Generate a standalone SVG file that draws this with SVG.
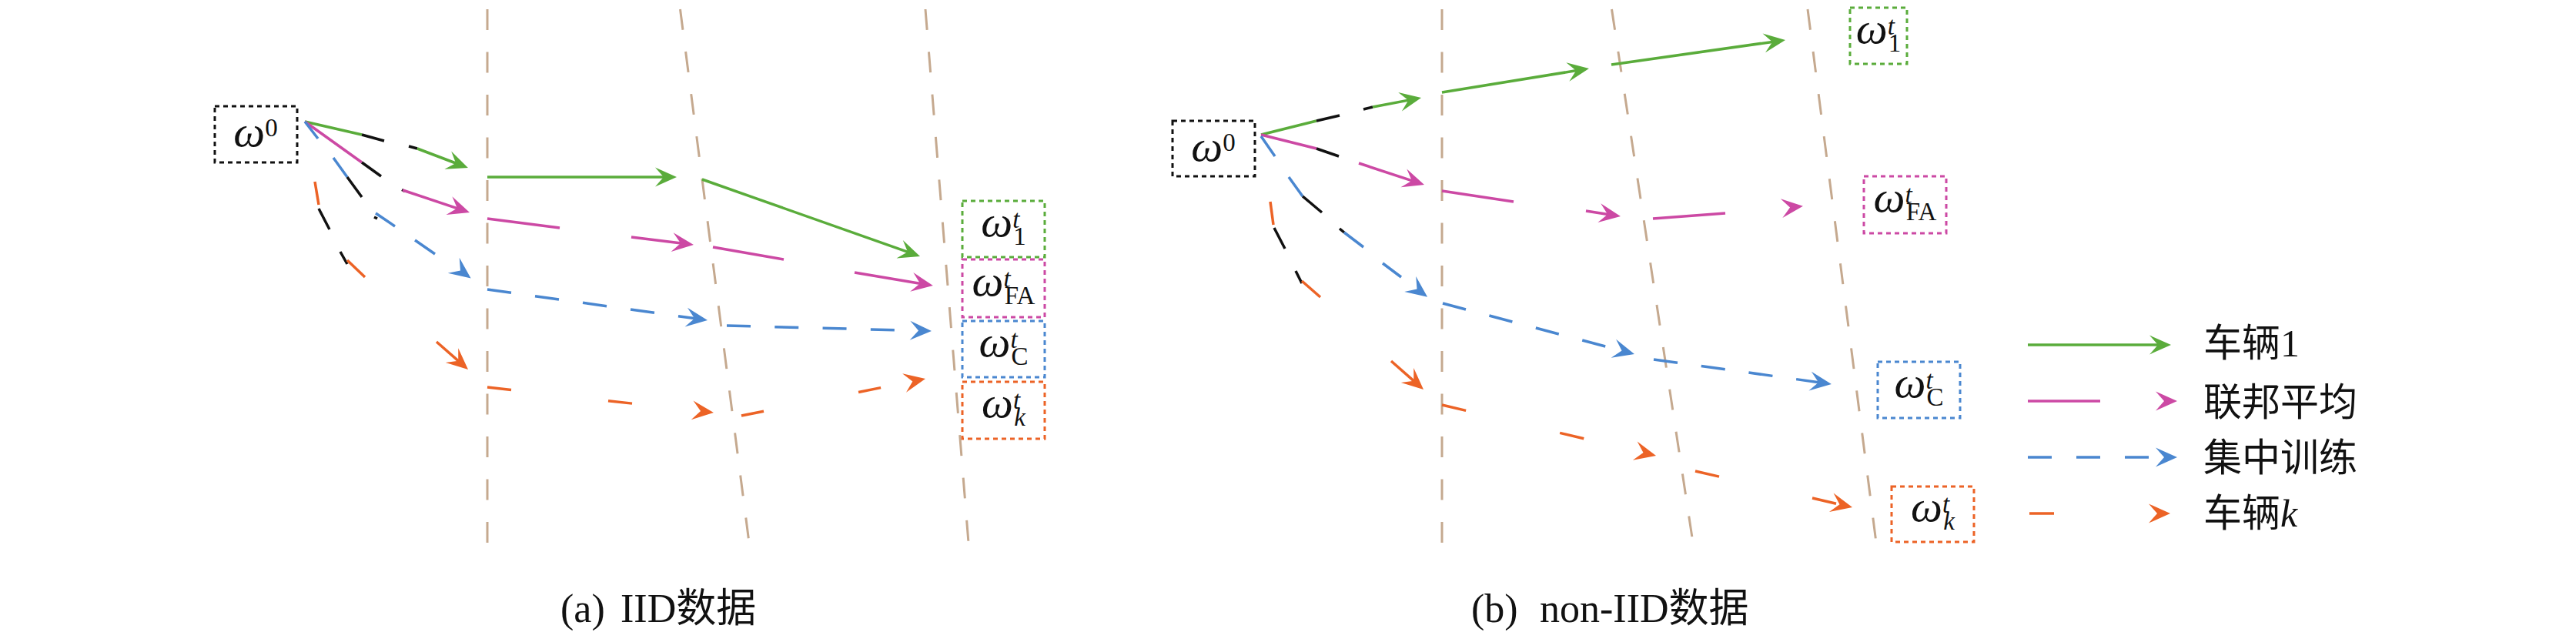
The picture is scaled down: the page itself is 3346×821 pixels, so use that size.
<svg xmlns="http://www.w3.org/2000/svg" width="3346" height="821" viewBox="0 0 3346 821">
<style>
.g{stroke:#5aac3b;stroke-width:3.5;fill:none}
.m{stroke:#cc49a4;stroke-width:3.5;fill:none}
.b{stroke:#4a87d0;stroke-width:3.5;fill:none}
.o{stroke:#ec6326;stroke-width:3.5;fill:none}
.k{stroke:#111;stroke-width:3.5;fill:none}
.br{stroke:#c5a98f;stroke-width:3;fill:none;stroke-dasharray:27 28.5}
.box{fill:none;stroke-width:3;stroke-dasharray:6 5}
.w{font-family:"Liberation Serif",serif;font-style:italic;font-size:58px;fill:#111}
.sup{font-size:33px;font-style:italic}
.sub{font-size:33px;font-style:normal}
.subi{font-size:33px;font-style:italic}
.lab{font-family:"Liberation Serif","Noto Sans CJK SC",serif;font-size:50px;fill:#111}
.cap{font-family:"Liberation Serif","Noto Sans CJK SC",serif;font-size:52px;fill:#111}
</style>
<defs>
<marker id="ag" markerUnits="userSpaceOnUse" viewBox="-20 -14 32 28" markerWidth="32" markerHeight="28" refX="0" refY="0" orient="auto" overflow="visible"><path d="M10,0 L-18,-12.5 L-7,0 L-18,12.5 Z" fill="#5aac3b"/></marker>
<marker id="am" markerUnits="userSpaceOnUse" viewBox="-20 -14 32 28" markerWidth="32" markerHeight="28" refX="0" refY="0" orient="auto" overflow="visible"><path d="M10,0 L-18,-12.5 L-7,0 L-18,12.5 Z" fill="#cc49a4"/></marker>
<marker id="ab" markerUnits="userSpaceOnUse" viewBox="-20 -14 32 28" markerWidth="32" markerHeight="28" refX="0" refY="0" orient="auto" overflow="visible"><path d="M10,0 L-18,-12.5 L-7,0 L-18,12.5 Z" fill="#4a87d0"/></marker>
<marker id="ao" markerUnits="userSpaceOnUse" viewBox="-20 -14 32 28" markerWidth="32" markerHeight="28" refX="0" refY="0" orient="auto" overflow="visible"><path d="M10,0 L-18,-12.5 L-7,0 L-18,12.5 Z" fill="#ec6326"/></marker>
</defs>
<rect width="3346" height="821" fill="#fff"/>

<g id="boundaries">
<path class="br" d="M633,12 L633,705"/>
<path class="br" d="M883.5,12 L973,705"/>
<path class="br" d="M1202,12 L1258,705"/>
<path class="br" d="M1873,12 L1873,705"/>
<path class="br" d="M2093.5,12 L2199,705"/>
<path class="br" d="M2348,12 L2437,705"/>
</g>

<g id="connectors">
<path class="g" d="M396,158 L470,175"/>
<path class="k" d="M470,175 L499,183 M531,190 L542,193"/>
<path class="g" d="M542,193 L598.6,214.5" marker-end="url(#ag)"/>
<path class="g" d="M633,230 L869,230" marker-end="url(#ag)"/>
<path class="g" d="M912,233 L1185.6,329.7" marker-end="url(#ag)"/>
<path class="m" d="M396,158 L470,211"/>
<path class="k" d="M470,211 L495,229 M522,246.5 L526,248.5"/>
<path class="m" d="M523,247 L600.5,272.8" marker-end="url(#am)"/>
<path class="m" d="M633,284 L727,296"/>
<path class="m" d="M820,308 L891,316.8" marker-end="url(#am)"/>
<path class="m" d="M926,321 L1018,337"/>
<path class="m" d="M1110,354 L1202,369.4" marker-end="url(#am)"/>
<path class="b" d="M396,158 L413,180 M433,205 L451,230"/>
<path class="k" d="M451,230 L470,256 M486,282 L490,284"/>
<path class="b" d="M488,277 L513,294 M539,312 L565,330"/>
<path class="b" d="M602.8,355 L603.6,355.6" marker-end="url(#ab)"/>
<path class="b" d="M633,376 L909.1,414.6" stroke-dasharray="31.3 31.3" marker-end="url(#ab)"/>
<path class="b" d="M944,423 L1200,429.7" stroke-dasharray="31 31.3" marker-end="url(#ab)"/>
<path class="o" d="M409,236 L414,266"/>
<path class="k" d="M414,271 L428,298 M442,327 L451,343"/>
<path class="o" d="M451,338 L474,360"/>
<path class="o" d="M567,444 L600.5,473.4" marker-end="url(#ao)"/>
<path class="o" d="M633,503 L917,534.9" stroke-dasharray="31.2 126.8" marker-end="url(#ao)"/>
<path class="o" d="M963,540 L1192.2,494" stroke-dasharray="29.6 125.5" marker-end="url(#ao)"/>

<path class="g" d="M1638,175 L1710,157"/>
<path class="k" d="M1710,157 L1740,150 M1771,142 L1783,139"/>
<path class="g" d="M1783,139 L1836.2,128.9" marker-end="url(#ag)"/>
<path class="g" d="M1873,120 L2054.1,90.6" marker-end="url(#ag)"/>
<path class="g" d="M2093,84 L2309.1,53.4" marker-end="url(#ag)"/>
<path class="m" d="M1638,175 L1710,193"/>
<path class="k" d="M1710,193 L1739,203"/>
<path class="m" d="M1765,212 L1840.5,236.9" marker-end="url(#am)"/>
<path class="m" d="M1873,248 L1966,262"/>
<path class="m" d="M2060,274 L2095.1,279.5" marker-end="url(#am)"/>
<path class="m" d="M2147,284 L2241,277"/>
<path class="m" d="M2331,268.9 L2332,268.8" marker-end="url(#am)"/>
<path class="b" d="M1638,177 L1656,203 M1674,230 L1692,255"/>
<path class="k" d="M1692,255 L1717,276 M1740,297 L1746,302"/>
<path class="b" d="M1746,302 L1771,321 M1796,342 L1820,360"/>
<path class="b" d="M1845.3,379.2 L1846.1,379.8" marker-end="url(#ab)"/>
<path class="b" d="M1874,394 L2113.3,457.4" stroke-dasharray="31 31.5" marker-end="url(#ab)"/>
<path class="b" d="M2148,467 L2369,497.6" stroke-dasharray="31.3 31" marker-end="url(#ab)"/>
<path class="o" d="M1650,262 L1654,292"/>
<path class="k" d="M1655,296 L1669,323 M1683,352 L1691,368"/>
<path class="o" d="M1691,365 L1715,386"/>
<path class="o" d="M1807,469 L1841.5,499.4" marker-end="url(#ao)"/>
<path class="o" d="M1873,526 L2141.3,589.7" stroke-dasharray="32 125.4" marker-end="url(#ao)"/>
<path class="o" d="M2202,612 L2396.3,656.8" stroke-dasharray="31.8 124.2" marker-end="url(#ao)"/>
</g>

<g id="node-w0-a">
<rect class="box" x="279" y="138" width="107" height="73" stroke="#111"/>
<text class="w" x="332" y="190" text-anchor="middle">ω<tspan class="sub" dy="-13" font-size="30">0</tspan></text>
</g>
<g id="node-w1-a">
<rect class="box" x="1250" y="261" width="107" height="73" stroke="#5aac3b"/>
<text class="w" x="1303.5" y="307" text-anchor="middle">ω<tspan class="sup" dy="-11">t</tspan><tspan class="sub" dx="-8" dy="22">1</tspan></text>
</g>
<g id="node-wFA-a">
<rect class="box" x="1250" y="337" width="107" height="75" stroke="#cc49a4"/>
<text class="w" x="1303.5" y="384" text-anchor="middle">ω<tspan class="sup" dy="-11">t</tspan><tspan class="sub" dx="-8" dy="22">FA</tspan></text>
</g>
<g id="node-wC-a">
<rect class="box" x="1250" y="417" width="107" height="73" stroke="#4a87d0"/>
<text class="w" x="1303.5" y="463" text-anchor="middle">ω<tspan class="sup" dy="-11">t</tspan><tspan class="sub" dx="-8" dy="22">C</tspan></text>
</g>
<g id="node-wk-a">
<rect class="box" x="1250" y="496" width="107" height="74" stroke="#ec6326"/>
<text class="w" x="1303.5" y="542" text-anchor="middle">ω<tspan class="sup" dy="-11">t</tspan><tspan class="subi" dx="-8" dy="22">k</tspan></text>
</g>

<g id="node-w0-b">
<rect class="box" x="1523" y="157" width="107" height="72" stroke="#111"/>
<text class="w" x="1576" y="209" text-anchor="middle">ω<tspan class="sub" dy="-13" font-size="30">0</tspan></text>
</g>
<g id="node-w1-b">
<rect class="box" x="2403" y="10" width="74" height="73" stroke="#5aac3b"/>
<text class="w" x="2440" y="56" text-anchor="middle">ω<tspan class="sup" dy="-11">t</tspan><tspan class="sub" dx="-8" dy="22">1</tspan></text>
</g>
<g id="node-wFA-b">
<rect class="box" x="2421" y="229" width="107" height="74" stroke="#cc49a4"/>
<text class="w" x="2474.5" y="275" text-anchor="middle">ω<tspan class="sup" dy="-11">t</tspan><tspan class="sub" dx="-8" dy="22">FA</tspan></text>
</g>
<g id="node-wC-b">
<rect class="box" x="2439" y="470" width="107" height="73" stroke="#4a87d0"/>
<text class="w" x="2492.5" y="516" text-anchor="middle">ω<tspan class="sup" dy="-11">t</tspan><tspan class="sub" dx="-8" dy="22">C</tspan></text>
</g>
<g id="node-wk-b">
<rect class="box" x="2457" y="632" width="107" height="72" stroke="#ec6326"/>
<text class="w" x="2510.5" y="677" text-anchor="middle">ω<tspan class="sup" dy="-11">t</tspan><tspan class="subi" dx="-8" dy="22">k</tspan></text>
</g>

<g id="legend">
<path class="g" d="M2634,448 L2810,448" marker-end="url(#ag)"/>
<path class="m" d="M2634,521 L2818,521" stroke-dasharray="94 200" marker-end="url(#am)"/>
<path class="b" d="M2634,594 L2818,594" stroke-dasharray="31 32" marker-end="url(#ab)"/>
<path class="o" d="M2636,667 L2809,667" stroke-dasharray="32 200" marker-end="url(#ao)"/>
<text class="lab" x="2862" y="463">车辆1</text>
<text class="lab" x="2862" y="540">联邦平均</text>
<text class="lab" x="2862" y="612">集中训练</text>
<text class="lab" x="2862" y="684">车辆<tspan font-style="italic">k</tspan></text>
</g>

<g id="captions">
<text class="cap" x="728" y="808">(a)<tspan x="806">IID数据</tspan></text>
<text class="cap" x="1911" y="808">(b)<tspan x="2000">non-IID数据</tspan></text>
</g>
</svg>
